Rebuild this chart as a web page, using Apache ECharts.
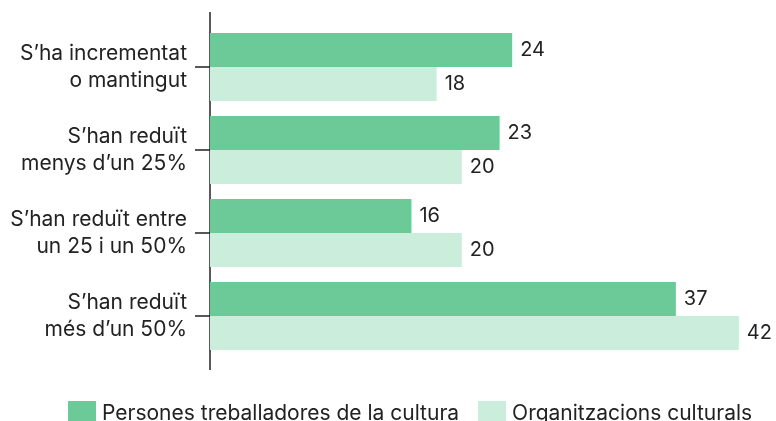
<!DOCTYPE html>
<html>
<head>
<meta charset="utf-8">
<script src="https://cdn.jsdelivr.net/npm/echarts@6/dist/echarts.min.js"></script>
<style>
  html, body { margin: 0; padding: 0; background: #fff; }
  #chart { width: 776px; height: 421px; }
</style>
</head>
<body>
<div id="chart"></div>
<script>
const categories = [
  'S\u2019ha incrementat\no mantingut',
  'S\u2019han reduït\nmenys d\u2019un 25%',
  'S\u2019han reduït entre\nun 25 i un 50%',
  'S\u2019han reduït\nmés d\u2019un 50%'
];
const seriesNames = ['Persones treballadores de la cultura', 'Organitzacions culturals'];
const workers = [24, 23, 16, 37];
const organizations = [18, 20, 20, 42];

const fontFamily = 'Inter, "Noto Sans", sans-serif';
const textColor = '#222';
const colors = ['#6cca98', '#cbeddc'];

const barLabel = {
  show: true,
  position: 'right',
  distance: 8,
  color: textColor,
  fontSize: 20,
  fontFamily: fontFamily
};
const barSeries = {
  type: 'bar',
  barGap: 0,
  barWidth: 34,
  label: barLabel,
  silent: true
};

const chart = echarts.init(document.getElementById('chart'));
chart.setOption({
  animation: false,
  color: colors,
  grid: {
    left: 210,
    width: 554,
    top: 25.5,
    height: 332
  },
  legend: {
    data: seriesNames,
    left: 63,
    top: 396,
    itemWidth: 28,
    itemHeight: 26,
    itemGap: 19,
    icon: 'rect',
    textStyle: {
      color: textColor,
      fontSize: 21,
      fontFamily: fontFamily,
      padding: [0, 0, 0, 1]
    }
  },
  xAxis: {
    type: 'value',
    min: 0,
    max: 44,
    show: false
  },
  yAxis: {
    type: 'category',
    inverse: true,
    data: categories,
    axisLine: { show: false },
    axisTick: {
      show: true,
      alignWithLabel: true,
      length: 15,
      lineStyle: { color: '#222', width: 1.5 }
    },
    axisLabel: {
      margin: 23,
      color: textColor,
      fontSize: 21,
      lineHeight: 27,
      fontFamily: fontFamily,
      align: 'right'
    }
  },
  // vertical baseline extends above and below the bars
  graphic: [{
    type: 'line',
    shape: { x1: 210, y1: 12, x2: 210, y2: 370 },
    style: { stroke: '#222', lineWidth: 1.5 },
    silent: true
  }],
  series: [
    { name: seriesNames[0], ...barSeries, data: workers },
    { name: seriesNames[1], ...barSeries, data: organizations }
  ]
});
</script>
</body>
</html>
